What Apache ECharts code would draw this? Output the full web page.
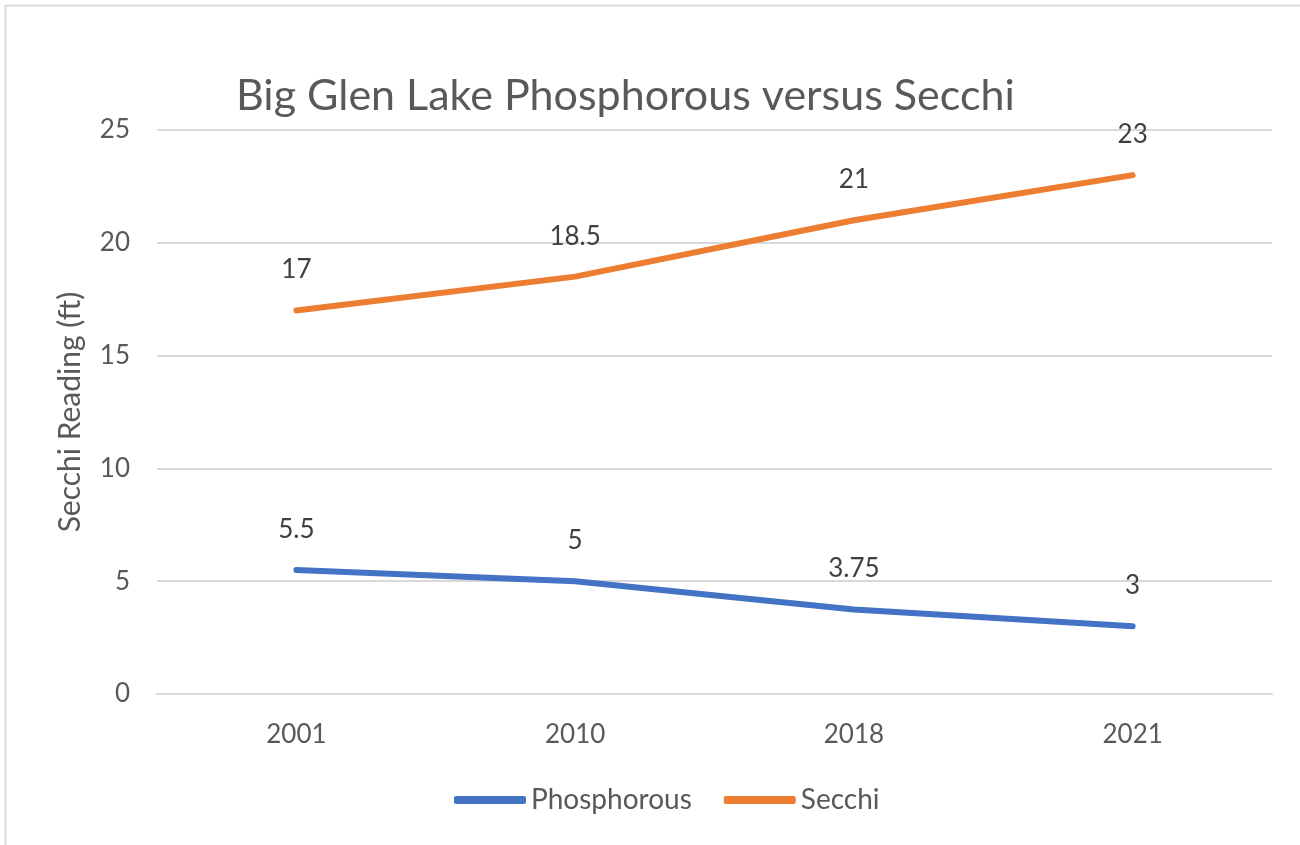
<!DOCTYPE html>
<html><head><meta charset="utf-8">
<script src="https://cdn.jsdelivr.net/npm/echarts@6/dist/echarts.min.js"></script>
<style>html,body{margin:0;padding:0;background:#fff}#c{width:1300px;height:845px}</style>
</head><body><div id="c"></div>
<script>
const categories = ['2001', '2010', '2018', '2021'];
const phosphorous = [5.5, 5, 3.75, 3];
const secchi = [17, 18.5, 21, 23];
const yTicks = { min: 0, max: 25, interval: 5 };

const FONT = 'Lato, "Open Sans", sans-serif';
const chart = echarts.init(document.getElementById('c'));
const labelCfg = { show: true, position: 'top', distance: 27, fontSize: 26, color: '#404040', fontFamily: FONT };
chart.setOption({
  backgroundColor: '#fff',
  animation: false,
  graphic: [{ type: 'rect', shape: { x: 5.5, y: 5.5, width: 1310, height: 860 }, style: { fill: 'none', stroke: '#d9d9d9', lineWidth: 2 } }],
  title: { text: 'Big Glen Lake Phosphorous versus Secchi', left: 231, top: 70,
    textStyle: { fontSize: 43, fontWeight: 'normal', color: '#595959', fontFamily: FONT } },
  legend: { bottom: 26, left: 449, itemWidth: 72, itemHeight: 8, itemGap: 32,
    textStyle: { fontSize: 28, color: '#595959', fontFamily: FONT },
    data: [{ name: 'Phosphorous', icon: 'roundRect' }, { name: 'Secchi', icon: 'roundRect' }] },
  grid: { left: 157, right: 28, top: 130, bottom: 151, containLabel: false },
  xAxis: { type: 'category', data: categories, boundaryGap: true,
    axisLine: { lineStyle: { color: '#d9d9d9', width: 2 } }, axisTick: { show: false },
    axisLabel: { fontSize: 26, color: '#595959', margin: 28, fontFamily: FONT } },
  yAxis: { type: 'value', min: yTicks.min, max: yTicks.max, interval: yTicks.interval,
    name: 'Secchi Reading (ft)', nameLocation: 'middle', nameGap: 72,
    nameTextStyle: { fontSize: 30, color: '#595959', fontFamily: FONT },
    axisLine: { show: false }, axisTick: { show: false },
    splitLine: { lineStyle: { color: '#d9d9d9', width: 2 } },
    axisLabel: { fontSize: 26, color: '#595959', margin: 27, fontFamily: FONT } },
  series: [
    { name: 'Phosphorous', type: 'line', data: phosphorous, showSymbol: true, symbol: 'circle', symbolSize: 1,
      color: '#4472C4', lineStyle: { width: 6, cap: 'round', join: 'round' }, label: labelCfg },
    { name: 'Secchi', type: 'line', data: secchi, showSymbol: true, symbol: 'circle', symbolSize: 1,
      color: '#ED7D31', lineStyle: { width: 6, cap: 'round', join: 'round' }, label: labelCfg }
  ]
});
</script></body></html>
